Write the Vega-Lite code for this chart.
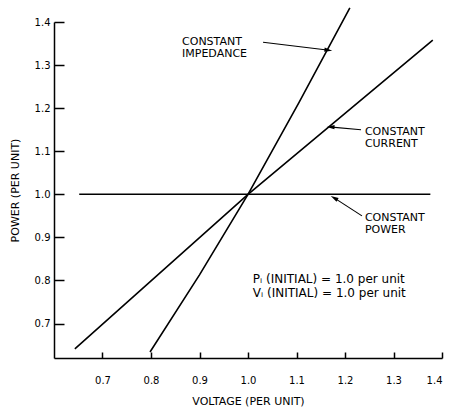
{
  "$schema": "https://vega.github.io/schema/vega-lite/v6.json",
  "width": 388,
  "height": 336,
  "autosize": "none",
  "padding": {"left": 54, "top": 22, "right": 11, "bottom": 50},
  "background": "white",
  "config": {
    "view": {"stroke": null},
    "axis": {
      "grid": false,
      "domainColor": "black",
      "tickColor": "black",
      "labelColor": "black",
      "titleColor": "black",
      "labelFont": "DejaVu Sans",
      "titleFont": "DejaVu Sans",
      "labelFontSize": 10,
      "titleFontSize": 11,
      "titleFontWeight": "normal",
      "domainWidth": 1.5,
      "tickWidth": 1.5
    }
  },
  "datasets": {
    "lines": [
      {"series": "constant power", "V": 0.652, "P": 1.0},
      {"series": "constant power", "V": 1.376, "P": 1.0},
      {"series": "constant current", "V": 0.643, "P": 0.641},
      {"series": "constant current", "V": 1.0, "P": 1.0},
      {"series": "constant current", "V": 1.381, "P": 1.358},
      {"series": "constant impedance", "V": 0.798, "P": 0.634},
      {"series": "constant impedance", "V": 0.9, "P": 0.813},
      {"series": "constant impedance", "V": 1.0, "P": 1.0},
      {"series": "constant impedance", "V": 1.105, "P": 1.213},
      {"series": "constant impedance", "V": 1.21, "P": 1.433}
    ],
    "arrows": [
      {"label": "impedance", "V": 1.031, "P": 1.353, "V2": 1.163, "P2": 1.335},
      {"label": "current", "V": 1.233, "P": 1.15, "V2": 1.173, "P2": 1.156},
      {"label": "power", "V": 1.235, "P": 0.95, "V2": 1.18, "P2": 0.99}
    ],
    "texts": [
      {"text": ["CONSTANT", "IMPEDANCE"], "V": 0.864, "P": 1.367},
      {"text": ["CONSTANT", "CURRENT"], "V": 1.241, "P": 1.158},
      {"text": ["CONSTANT", "POWER"], "V": 1.241, "P": 0.958}
    ],
    "notes": [
      {"text": ["Pᵢ (INITIAL) = 1.0 per unit", "Vᵢ (INITIAL) = 1.0 per unit"], "V": 1.01, "P": 0.815}
    ]
  },
  "encoding": {
    "x": {
      "field": "V", "type": "quantitative",
      "scale": {"domain": [0.6, 1.4], "nice": false, "zero": false},
      "axis": {
        "values": [0.7, 0.8, 0.9, 1.0, 1.1, 1.2, 1.3, 1.4],
        "format": ".1f",
        "tickSize": -6,
        "labelPadding": 23,
        "title": "VOLTAGE (PER UNIT)",
        "titlePadding": 10
      }
    },
    "y": {
      "field": "P", "type": "quantitative",
      "scale": {"domain": [0.62, 1.4], "nice": false, "zero": false},
      "axis": {
        "values": [0.7, 0.8, 0.9, 1.0, 1.1, 1.2, 1.3, 1.4],
        "format": ".1f",
        "tickSize": -10,
        "labelPadding": 14,
        "title": "POWER (PER UNIT)",
        "titlePadding": 14
      }
    }
  },
  "layer": [
    {
      "data": {"name": "lines"},
      "mark": {"type": "line", "color": "black", "strokeWidth": 1.6, "clip": false},
      "encoding": {"detail": {"field": "series"}}
    },
    {
      "data": {"name": "arrows"},
      "mark": {"type": "rule", "color": "black", "strokeWidth": 1.1},
      "encoding": {"x2": {"field": "V2"}, "y2": {"field": "P2"}}
    },
    {
      "data": {"name": "arrows"},
      "transform": [{"filter": "datum.label == 'impedance'"}],
      "mark": {"type": "point", "filled": true, "color": "black", "opacity": 1, "size": 110, "shape": "M0,-1L0.4,0.5L-0.4,0.5Z", "angle": 97},
      "encoding": {"x": {"field": "V2", "type": "quantitative"}, "y": {"field": "P2", "type": "quantitative"}}
    },
    {
      "data": {"name": "arrows"},
      "transform": [{"filter": "datum.label == 'current'"}],
      "mark": {"type": "point", "filled": true, "color": "black", "opacity": 1, "size": 110, "shape": "M0,-1L0.4,0.5L-0.4,0.5Z", "angle": 272},
      "encoding": {"x": {"field": "V2", "type": "quantitative"}, "y": {"field": "P2", "type": "quantitative"}}
    },
    {
      "data": {"name": "arrows"},
      "transform": [{"filter": "datum.label == 'power'"}],
      "mark": {"type": "point", "filled": true, "color": "black", "opacity": 1, "size": 110, "shape": "M0,-1L0.4,0.5L-0.4,0.5Z", "angle": 300},
      "encoding": {"x": {"field": "V2", "type": "quantitative"}, "y": {"field": "P2", "type": "quantitative"}}
    },
    {
      "data": {"name": "texts"},
      "mark": {"type": "text", "align": "left", "baseline": "top", "font": "DejaVu Sans", "fontSize": 11, "lineHeight": 12, "color": "black"},
      "encoding": {"text": {"field": "text"}}
    },
    {
      "data": {"name": "notes"},
      "mark": {"type": "text", "align": "left", "baseline": "top", "font": "DejaVu Sans", "fontSize": 12, "lineHeight": 14, "color": "black"},
      "encoding": {"text": {"field": "text"}}
    }
  ]
}
